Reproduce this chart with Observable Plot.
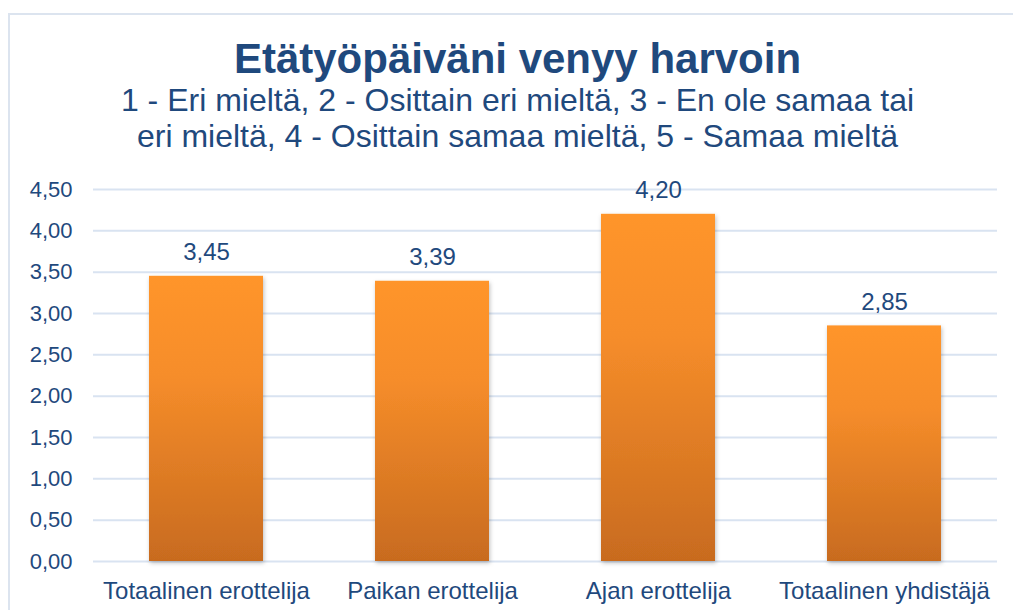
<!DOCTYPE html>
<html>
<head>
<meta charset="utf-8">
<script src="https://cdn.jsdelivr.net/npm/d3@7"></script>
<script src="https://cdn.jsdelivr.net/npm/@observablehq/plot@0.6"></script>
<style>
  html, body { margin: 0; padding: 0; background: #fff; }
  #wrap { position: relative; width: 1013px; height: 610px; overflow: hidden; font-family: "Liberation Sans", Arial, sans-serif; }
  #frame { position: absolute; left: 8px; top: 13px; width: 1100px; height: 700px; border-left: 2px solid #DCE4EF; border-top: 2px solid #DCE4EF; }
  #header { position: relative; height: 170px; }
  #title { position: absolute; left: 0; width: 1035px; top: 38px; text-align: center; font-size: 42px; line-height: 42px; font-weight: bold; color: #1F497D; }
  #subtitle { position: absolute; left: 0; width: 1035px; top: 82px; text-align: center; font-size: 32px; line-height: 36px; color: #1F497D; }
  #chart { position: relative; }
</style>
</head>
<body>
<div id="wrap">
  <div id="frame"></div>
  <div id="header">
    <div id="title">Etätyöpäiväni venyy harvoin</div>
    <div id="subtitle">1 - Eri mieltä, 2 - Osittain eri mieltä, 3 - En ole samaa tai<br>eri mieltä, 4 - Osittain samaa mieltä, 5 - Samaa mieltä</div>
  </div>
  <div id="chart"></div>
</div>
<script>
const categories = ["Totaalinen erottelija", "Paikan erottelija", "Ajan erottelija", "Totaalinen yhdistäjä"];
const values = [3.45, 3.39, 4.20, 2.85];
const yTicks = [0, 0.5, 1, 1.5, 2, 2.5, 3, 3.5, 4, 4.5];

const data = categories.map((c, i) => ({category: c, value: values[i]}));
const fmt = d => d.toFixed(2).replace(".", ",");
const textColor = "#1F497D";

const chart = Plot.plot({
  width: 1013,
  height: 440,
  marginTop: 19,
  marginBottom: 49,
  marginLeft: 93,
  marginRight: 16,
  style: {fontFamily: "'Liberation Sans', Arial, sans-serif", background: "transparent", overflow: "visible"},
  x: {domain: categories, paddingInner: 0.495, paddingOuter: 0.2475, label: null},
  y: {domain: [0, 4.5], ticks: yTicks, label: null},
  marks: [
    Plot.ruleY(yTicks, {stroke: "#D9E3F1", strokeWidth: 2}),
    Plot.barY(data, {x: "category", y: "value", fill: "url(#barGrad)"}),
    Plot.text(data, {x: "category", y: "value", text: d => fmt(d.value), dy: -24, lineAnchor: "middle", fontSize: 24, fill: textColor}),
    Plot.axisY({ticks: yTicks, tickFormat: fmt, tickSize: 0, tickPadding: 21, fontSize: 22, color: textColor, label: null}),
    Plot.axisX({tickSize: 0, tickPadding: 20, fontSize: 24, color: textColor, label: null})
  ]
});

const svg = d3.select(chart);
const defs = svg.insert("defs", ":first-child");
const grad = defs.append("linearGradient").attr("id", "barGrad").attr("x1", 0).attr("y1", 0).attr("x2", 0).attr("y2", 1);
grad.append("stop").attr("offset", "0%").attr("stop-color", "#FF952B");
grad.append("stop").attr("offset", "35%").attr("stop-color", "#F68D2A");
grad.append("stop").attr("offset", "100%").attr("stop-color", "#C86B1F");
const filt = defs.append("filter").attr("id", "barShadow").attr("x", "-10%").attr("y", "-10%").attr("width", "130%").attr("height", "130%");
filt.append("feDropShadow").attr("dx", 1).attr("dy", 2).attr("stdDeviation", 2).attr("flood-color", "#000").attr("flood-opacity", 0.25);
svg.selectAll("rect").attr("filter", "url(#barShadow)");

document.getElementById("chart").appendChild(chart);
</script>
</body>
</html>
